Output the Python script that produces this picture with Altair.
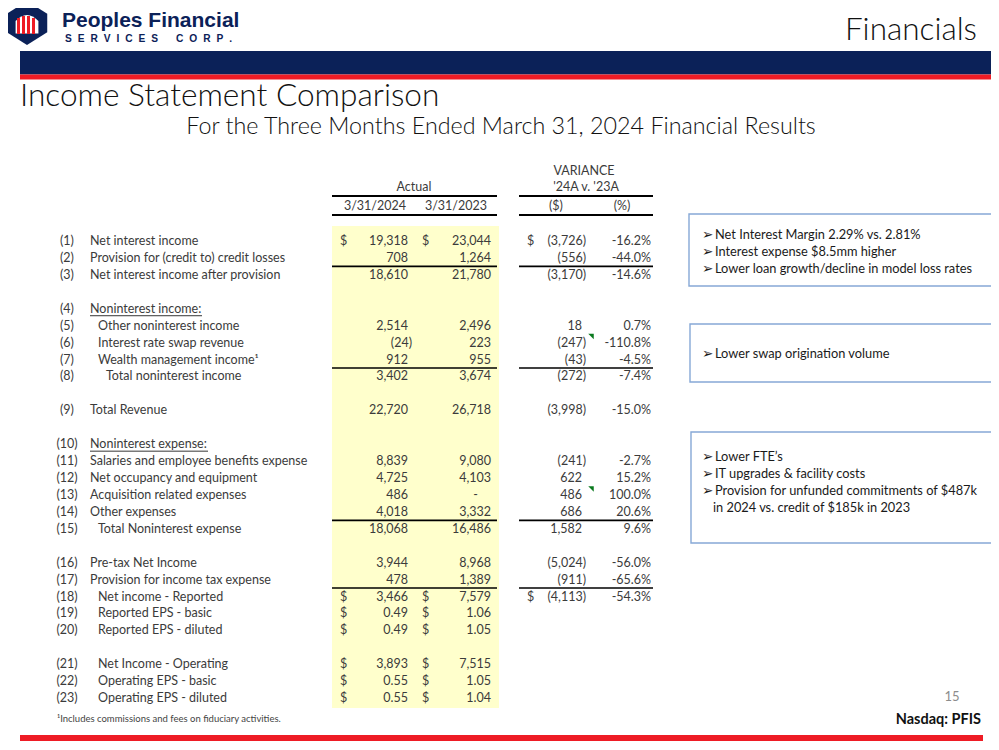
import altair as alt
import pandas as pd

# ------------------------------------------------------------------ data
row_ids = [f"({i})" for i in range(1, 24)]
row_labels = [
    "Net interest income", "Provision for (credit to) credit losses",
    "Net interest income after provision", "Noninterest income:",
    "Other noninterest income", "Interest rate swap revenue",
    "Wealth management income\u00b9", "Total noninterest income",
    "Total Revenue", "Noninterest expense:",
    "Salaries and employee benefits expense", "Net occupancy and equipment",
    "Acquisition related expenses", "Other expenses",
    "Total Noninterest expense", "Pre-tax Net Income",
    "Provision for income tax expense", "Net income - Reported",
    "Reported EPS - basic", "Reported EPS - diluted",
    "Net Income - Operating", "Operating EPS - basic", "Operating EPS - diluted",
]
actual_2024 = [19318, 708, 18610, None, 2514, -24, 912, 3402, 22720, None,
               8839, 4725, 486, 4018, 18068, 3944, 478, 3466, 0.49, 0.49,
               3893, 0.55, 0.55]
actual_2023 = [23044, 1264, 21780, None, 2496, 223, 955, 3674, 26718, None,
               9080, 4103, 0, 3332, 16486, 8968, 1389, 7579, 1.06, 1.05,
               7515, 1.05, 1.04]
variance_usd = [-3726, -556, -3170, None, 18, -247, -43, -272, -3998, None,
                -241, 622, 486, 686, 1582, -5024, -911, -4113, None, None,
                None, None, None]
variance_pct = [-16.2, -44.0, -14.6, None, 0.7, -110.8, -4.5, -7.4, -15.0, None,
                -2.7, 15.2, 100.0, 20.6, 9.6, -56.0, -65.6, -54.3, None, None,
                None, None, None]
dollar_rows_actual = [1, 18, 19, 20, 21, 22, 23]
dollar_rows_var = [1, 18]
eps_rows = [19, 20, 22, 23]
underlined_rows = [4, 10]
comment_rows = [6, 13]

callout_1 = ["Net Interest Margin 2.29% vs. 2.81%",
             "Interest expense $8.5mm higher",
             "Lower loan growth/decline in model loss rates"]
callout_2 = ["Lower swap origination volume"]
callout_3 = ["Lower FTE\u2019s",
             "IT upgrades & facility costs",
             "Provision for unfunded commitments of $487k",
             "in 2024 vs. credit of $185k in 2023"]
callout_3_bullets = [True, True, True, False]

# ------------------------------------------------------------------ layout
FONT = "Lato"
TXT = "#3b3b3b"
NAVY = "#0b2158"
RED = "#ee1c25"
TFS = 12.5
row_slot = [0, 1, 2, 4, 5, 6, 7, 8, 10, 12, 13, 14, 15, 16, 17, 19, 20, 21,
            22, 23, 25, 26, 27]
row_indent = [0, 0, 0, 0, 1, 1, 1, 2, 0, 0, 0, 0, 0, 0, 1, 0, 0, 1, 1, 1, 1, 1, 1]
ROW0, PITCH = 241.0, 16.93
rows_y = [ROW0 + s * PITCH for s in row_slot]
X_ID, X_LABEL, INDENT = 67, 90, 8
C1_D, C1_R, C2_D, C2_R, V_D, V_R, P_R = 340, 408, 422, 491, 527, 582, 651
PAREN = 4
ruled_after = [2, 7, 14, 17]

xs = alt.Scale(domain=[8, 991], nice=False, zero=False)
ys = alt.Scale(domain=[8, 741], reverse=True, nice=False, zero=False)


def fmt_num(v, eps=False):
    if v is None:
        return None
    if eps:
        return f"{v:.2f}"
    if v == 0:
        return "-"
    s = f"{abs(v):,.0f}"
    return f"({s})" if v < 0 else s


def fmt_pct(v):
    return None if v is None else f"{v:.1f}%"


def text_layer(df, **kw):
    base = dict(font=FONT, fontSize=TFS, color=TXT, baseline="middle")
    base.update(kw)
    return alt.Chart(df).mark_text(**base).encode(
        x=alt.X("x:Q", scale=xs, axis=None),
        y=alt.Y("y:Q", scale=ys, axis=None),
        text="t:N",
    )


# ---- table cells
right_cells, left_cells = [], []
for i in range(23):
    n = i + 1
    y = rows_y[i]
    eps = n in eps_rows
    for val, r in ((actual_2024[i], C1_R), (actual_2023[i], C2_R),
                   (variance_usd[i], V_R)):
        s = fmt_num(val, eps)
        if s is None:
            continue
        x = r + (PAREN if s.startswith("(") else 0) - (13 if s == "-" else 0)
        right_cells.append({"x": x, "y": y, "t": s})
    p = fmt_pct(variance_pct[i])
    if p:
        right_cells.append({"x": P_R, "y": y, "t": p})
    if n in dollar_rows_actual:
        left_cells.append({"x": C1_D, "y": y, "t": "$"})
        left_cells.append({"x": C2_D, "y": y, "t": "$"})
    if n in dollar_rows_var:
        left_cells.append({"x": V_D, "y": y, "t": "$"})
right_df = pd.DataFrame(right_cells)
left_df = pd.DataFrame(left_cells)

id_df = pd.DataFrame({"x": X_ID, "y": rows_y, "t": row_ids})
lab_df = pd.DataFrame({"x": [X_LABEL + INDENT * k for k in row_indent],
                       "y": rows_y, "t": row_labels})

header_df = pd.DataFrame([
    {"x": 584, "y": 171, "t": "VARIANCE"},
    {"x": 414, "y": 187, "t": "Actual"},
    {"x": 586, "y": 187, "t": "'24A v. '23A"},
    {"x": 375, "y": 206, "t": "3/31/2024"},
    {"x": 456, "y": 206, "t": "3/31/2023"},
    {"x": 556, "y": 206, "t": "($)"},
    {"x": 622, "y": 206, "t": "(%)"},
])

# ---- rules (table borders, underlines)
rules = [
    {"x": 332, "x2": 497, "y": 196, "w": 2}, {"x": 519, "x2": 653, "y": 196, "w": 2},
    {"x": 332, "x2": 497, "y": 215, "w": 2}, {"x": 519, "x2": 653, "y": 215, "w": 2},
]
for n in ruled_after:
    yy = rows_y[n - 1] + PITCH / 2
    rules += [{"x": 332, "x2": 497, "y": yy, "w": 1.6},
              {"x": 519, "x2": 653, "y": yy, "w": 1.6}]
ul_len = {4: 112, 10: 118}
for n in underlined_rows:
    rules.append({"x": X_LABEL, "x2": X_LABEL + ul_len[n], "y": rows_y[n - 1] + 7, "w": 0.8})
rule_df = pd.DataFrame(rules)

rule_layer = alt.Chart(rule_df).mark_rule(color="#000").encode(
    x=alt.X("x:Q", scale=xs, axis=None), x2="x2:Q",
    y=alt.Y("y:Q", scale=ys, axis=None),
    strokeWidth=alt.StrokeWidth("w:Q", scale=None),
)

# ---- rectangles: bands, highlight, callout boxes
rects = pd.DataFrame([
    {"x": 20, "x2": 999, "y": 51, "y2": 74.5, "c": NAVY, "s": "none"},
    {"x": 20, "x2": 999, "y": 74.5, "y2": 79.5, "c": RED, "s": "none"},
    {"x": 20, "x2": 983, "y": 735, "y2": 741, "c": RED, "s": "none"},
    {"x": 332, "x2": 499, "y": 226, "y2": 708, "c": "#ffffcc", "s": "none"},
    {"x": 689, "x2": 998, "y": 214, "y2": 286, "c": "#ffffff", "s": "#86a8d6"},
    {"x": 690, "x2": 998, "y": 324, "y2": 382, "c": "#ffffff", "s": "#86a8d6"},
    {"x": 691, "x2": 998, "y": 432, "y2": 543, "c": "#ffffff", "s": "#86a8d6"},
])
rect_layer = alt.Chart(rects).mark_rect(strokeWidth=1.4).encode(
    x=alt.X("x:Q", scale=xs, axis=None), x2="x2:Q",
    y=alt.Y("y:Q", scale=ys, axis=None), y2="y2:Q",
    fill=alt.Fill("c:N", scale=None), stroke=alt.Stroke("s:N", scale=None),
)

# ---- callout texts
co, arrows = [], []
blocks = ((callout_1, [True] * 3, 235), (callout_2, [True], 354),
          (callout_3, callout_3_bullets, 457))
for lines, bullets, y0 in blocks:
    for k, (line, b) in enumerate(zip(lines, bullets)):
        yy = y0 + k * 17
        co.append({"x": 715 if b else 713, "y": yy, "t": line})
        if b:
            arrows.append({"x": 702, "y": yy, "t": "\u27a2"})
co_df = pd.DataFrame(co)
arrow_df = pd.DataFrame(arrows)

# ---- comment indicators (green corner triangles)
tri_df = pd.DataFrame({"x": [591] * len(comment_rows),
                       "y": [rows_y[n - 1] - 6 for n in comment_rows]})
tri_layer = alt.Chart(tri_df).mark_point(
    shape="M-1,-1 L1,-1 L1,1 Z", filled=True, color="#0a7a1e", size=30, opacity=1
).encode(x=alt.X("x:Q", scale=xs, axis=None), y=alt.Y("y:Q", scale=ys, axis=None))

# ---- logo
logo_shape = pd.DataFrame({"x": [27], "y": [23]})
logo_hex = alt.Chart(logo_shape).mark_point(
    shape="M0,-1 L0.92,-0.42 L0.92,0.42 L0,1 L-0.92,0.42 L-0.92,-0.42 Z",
    filled=True, color=NAVY, size=44 * 44, opacity=1,
).encode(x=alt.X("x:Q", scale=xs, axis=None), y=alt.Y("y:Q", scale=ys, axis=None))
logo_inner = alt.Chart(logo_shape).mark_point(
    shape="M-0.6,-0.1 Q0,-0.75 0.6,-0.1 L0.6,0.55 L-0.6,0.55 Z",
    filled=True, color="#ffffff", size=38 * 38, opacity=1,
).encode(x=alt.X("x:Q", scale=xs, axis=None), y=alt.Y("y:Q", scale=ys, axis=None))
pillars = pd.DataFrame({"x": [17, 22, 27, 32], "x2": [20, 25, 30, 35],
                        "y": [18, 16, 16, 18], "y2": [34, 34, 34, 34]})
pillar_layer = alt.Chart(pillars).mark_rect(color=RED).encode(
    x=alt.X("x:Q", scale=xs, axis=None), x2="x2:Q",
    y=alt.Y("y:Q", scale=ys, axis=None), y2="y2:Q",
)

sp = "\u2002\u200a"
logo_t1 = text_layer(pd.DataFrame({"x": [62], "y": [21], "t": ["Peoples Financial"]}),
                     fontSize=21, fontWeight="bold", color=NAVY, align="left",
                     font="Liberation Sans")
logo_t2 = text_layer(pd.DataFrame({"x": [65], "y": [39],
                                   "t": [sp.join("SERVICES") + sp * 3 + sp.join("CORP.")]}),
                     fontSize=10.2, fontWeight="bold", color=NAVY, align="left",
                     font="Liberation Sans")

titles = [
    text_layer(pd.DataFrame({"x": [977], "y": [31], "t": ["Financials"]}),
               fontSize=31.5, color="#111", align="right", fontWeight=300),
    text_layer(pd.DataFrame({"x": [20], "y": [97], "t": ["Income Statement Comparison"]}),
               fontSize=31.6, color="#111", align="left", fontWeight=300),
    text_layer(pd.DataFrame({"x": [501], "y": [127], "t": ["For the Three Months Ended March 31, 2024 Financial Results"]}),
               fontSize=23.3, color="#111", align="center", fontWeight=300),
    text_layer(pd.DataFrame({"x": [57], "y": [719], "t": ["\u00b9Includes commissions and fees on fiduciary activities."]}),
               fontSize=9.5, color="#444", align="left"),
    text_layer(pd.DataFrame({"x": [952], "y": [697], "t": ["15"]}),
               fontSize=13, color="#8c8c8c", align="center"),
    text_layer(pd.DataFrame({"x": [981], "y": [720], "t": ["Nasdaq: PFIS"]}),
               fontSize=14.5, fontWeight="bold", color="#111", align="right"),
]

chart = alt.layer(
    rect_layer, rule_layer, tri_layer,
    logo_hex, logo_inner, pillar_layer, logo_t1, logo_t2,
    text_layer(header_df, align="center"),
    text_layer(id_df, align="center"),
    text_layer(lab_df, align="left"),
    text_layer(right_df, align="right"),
    text_layer(left_df, align="left"),
    text_layer(co_df, align="left", fontSize=12.8, color="#1a1a1a"),
    text_layer(arrow_df, align="left", fontSize=13.5, color="#1a1a1a", font="DejaVu Sans"),
    *titles,
).properties(
    width=983, height=733, autosize="none", padding=0,
).configure_view(stroke=None)

chart.save("out.html", embed_options={"renderer": "svg", "actions": False})
